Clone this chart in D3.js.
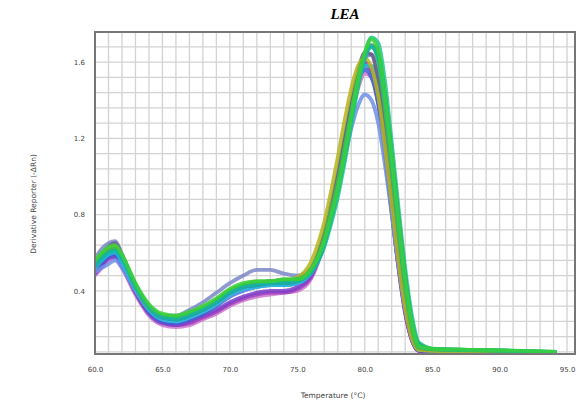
<!DOCTYPE html>
<html>
<head>
<meta charset="utf-8">
<script src="https://cdn.jsdelivr.net/npm/d3@7"></script>
<style>
  html, body { margin: 0; padding: 0; background: #fff; }
  svg { display: block; }
</style>
</head>
<body>
<svg id="chart" width="583" height="412"></svg>
<script>
// Melt curve: derivative reporter vs temperature, one trace per well
const temperatures = [60,60.5,61,61.5,62,63,64,65,66,67,68,69,70,71,72,73,74,75,76,76.5,77,77.5,78,78.5,79,79.5,80,80.5,81,81.5,82,82.5,83,83.5,84,85,88,91,94.2];

const xTicks = [60, 65, 70, 75, 80, 85, 90, 95];
const yTicks = [0.4, 0.8, 1.2, 1.6];

const seriesNames  = ["w13","w09","w08","w07","w06","w05","w12","w10","w04","w02","w14","w11","w03","w01"];
const seriesColors = ["#cc77cc","#a040c0","#7b3fc9","#3c5fd6","#6f8fe8","#7d86c8","#1fc0d8","#6a5a8a","#b5b51c","#19c98a","#2a9d6a","#46b848","#12b5a8","#3ad13a"];

const w13 = [0.48,0.52,0.56,0.57,0.52,0.38,0.27,0.22,0.21,0.22,0.25,0.28,0.32,0.35,0.37,0.38,0.39,0.40,0.46,0.54,0.65,0.80,0.96,1.14,1.32,1.46,1.54,1.52,1.38,1.12,0.82,0.53,0.29,0.14,0.088,0.085,0.082,0.078,0.072];
const w09 = [0.50,0.54,0.58,0.59,0.54,0.40,0.29,0.24,0.22,0.23,0.26,0.29,0.33,0.36,0.38,0.39,0.39,0.41,0.47,0.55,0.66,0.81,0.97,1.16,1.35,1.50,1.58,1.55,1.40,1.13,0.82,0.53,0.29,0.14,0.085,0.082,0.080,0.076,0.068];
const w08 = [0.49,0.53,0.57,0.58,0.53,0.39,0.28,0.23,0.22,0.24,0.27,0.30,0.34,0.37,0.39,0.40,0.40,0.42,0.48,0.56,0.67,0.82,0.98,1.17,1.36,1.52,1.60,1.56,1.40,1.12,0.81,0.52,0.28,0.14,0.085,0.082,0.080,0.078,0.070];
const w07 = [0.51,0.55,0.58,0.59,0.54,0.40,0.29,0.24,0.23,0.25,0.28,0.32,0.37,0.40,0.42,0.43,0.43,0.44,0.50,0.58,0.69,0.84,1.00,1.18,1.36,1.50,1.56,1.52,1.38,1.13,0.84,0.55,0.31,0.15,0.090,0.086,0.083,0.080,0.074];
const w06 = [0.50,0.52,0.54,0.56,0.52,0.40,0.30,0.25,0.24,0.26,0.29,0.33,0.37,0.40,0.42,0.43,0.43,0.44,0.49,0.56,0.66,0.79,0.93,1.09,1.25,1.37,1.43,1.40,1.28,1.06,0.80,0.53,0.30,0.15,0.090,0.085,0.082,0.080,0.075];
const w05 = [0.57,0.62,0.65,0.66,0.59,0.43,0.32,0.27,0.27,0.30,0.34,0.39,0.44,0.48,0.51,0.51,0.49,0.48,0.52,0.58,0.68,0.81,0.96,1.14,1.33,1.50,1.62,1.64,1.52,1.26,0.94,0.63,0.36,0.17,0.100,0.090,0.087,0.083,0.077];
const w12 = [0.52,0.56,0.59,0.60,0.55,0.41,0.30,0.25,0.24,0.26,0.29,0.33,0.38,0.41,0.42,0.43,0.43,0.44,0.50,0.58,0.70,0.85,1.01,1.19,1.36,1.50,1.58,1.58,1.47,1.22,0.91,0.60,0.34,0.16,0.090,0.087,0.084,0.080,0.074];
const w10 = [0.53,0.58,0.63,0.65,0.59,0.42,0.31,0.26,0.25,0.27,0.30,0.34,0.39,0.42,0.43,0.44,0.44,0.45,0.51,0.59,0.70,0.85,1.01,1.20,1.39,1.55,1.65,1.64,1.50,1.22,0.90,0.59,0.33,0.16,0.095,0.090,0.086,0.082,0.076];
const w04 = [0.55,0.59,0.62,0.63,0.58,0.42,0.31,0.27,0.26,0.28,0.31,0.35,0.40,0.43,0.44,0.45,0.45,0.47,0.55,0.64,0.76,0.92,1.10,1.29,1.46,1.58,1.62,1.57,1.42,1.16,0.86,0.56,0.31,0.15,0.090,0.085,0.082,0.080,0.075];
const w02 = [0.54,0.58,0.61,0.62,0.58,0.43,0.32,0.27,0.26,0.28,0.31,0.35,0.40,0.43,0.44,0.45,0.45,0.46,0.50,0.55,0.63,0.75,0.89,1.07,1.27,1.47,1.64,1.73,1.70,1.50,1.18,0.84,0.52,0.27,0.130,0.097,0.090,0.085,0.079];
const w14 = [0.54,0.58,0.61,0.62,0.58,0.43,0.32,0.27,0.26,0.28,0.31,0.35,0.40,0.43,0.44,0.45,0.45,0.46,0.50,0.56,0.65,0.78,0.93,1.11,1.31,1.50,1.63,1.69,1.64,1.43,1.12,0.79,0.48,0.24,0.120,0.095,0.090,0.085,0.079];
const w11 = [0.55,0.59,0.61,0.62,0.58,0.43,0.32,0.27,0.26,0.28,0.31,0.35,0.40,0.43,0.45,0.45,0.46,0.46,0.51,0.58,0.68,0.82,0.97,1.15,1.34,1.52,1.64,1.68,1.60,1.35,1.03,0.71,0.41,0.20,0.100,0.093,0.088,0.084,0.078];
const w03 = [0.53,0.57,0.60,0.61,0.57,0.42,0.31,0.26,0.25,0.27,0.30,0.34,0.39,0.42,0.43,0.44,0.44,0.45,0.49,0.55,0.64,0.77,0.92,1.10,1.30,1.48,1.62,1.68,1.62,1.40,1.08,0.75,0.45,0.23,0.110,0.094,0.089,0.084,0.078];
const w01 = [0.56,0.60,0.63,0.64,0.59,0.44,0.33,0.28,0.27,0.29,0.32,0.36,0.41,0.44,0.45,0.45,0.46,0.46,0.51,0.57,0.66,0.79,0.93,1.11,1.31,1.50,1.65,1.72,1.66,1.42,1.10,0.77,0.46,0.23,0.110,0.095,0.090,0.086,0.080];

const seriesValues = [w13,w09,w08,w07,w06,w05,w12,w10,w04,w02,w14,w11,w03,w01];

const svg = d3.select("#chart");
const plot = { left: 95, right: 575, top: 32, bottom: 354 };

const x = d3.scaleLinear().domain([60, 95.59]).range([plot.left, plot.right]);
const y = d3.scaleLinear().domain([0.0684, 1.758]).range([plot.bottom, plot.top]);

// Fine background grid: 1 °C columns, 0.08 rows
const grid = svg.append("g");
grid.selectAll("line.v")
  .data(d3.range(61, 96, 1))
  .join("line")
  .attr("x1", d => x(d)).attr("x2", d => x(d))
  .attr("y1", plot.top).attr("y2", plot.bottom)
  .attr("stroke", "#d3d3d3").attr("stroke-width", 1.3);
grid.selectAll("line.h")
  .data(d3.range(1, 22).map(i => +(i * 0.08).toFixed(2)).filter(v => v > 0.0684 && v < 1.758))
  .join("line")
  .attr("x1", plot.left).attr("x2", plot.right)
  .attr("y1", d => y(d)).attr("y2", d => y(d))
  .attr("stroke", "#d3d3d3").attr("stroke-width", 1.3);

// Traces
const line = d3.line()
  .x((d, i) => x(temperatures[i]))
  .y(d => y(d))
  .curve(d3.curveMonotoneX);

svg.append("clipPath").attr("id", "plotClip")
  .append("rect")
  .attr("x", plot.left).attr("y", plot.top)
  .attr("width", plot.right - plot.left).attr("height", plot.bottom - plot.top);

svg.append("g").attr("clip-path", "url(#plotClip)")
  .selectAll("path")
  .data(seriesValues)
  .join("path")
  .attr("d", d => line(d))
  .attr("fill", "none")
  .attr("stroke", (d, i) => seriesColors[i])
  .attr("stroke-width", 3.8)
  .attr("stroke-opacity", 0.85)
  .attr("stroke-linejoin", "round");

// Frame
svg.append("rect")
  .attr("x", plot.left).attr("y", plot.top)
  .attr("width", plot.right - plot.left).attr("height", plot.bottom - plot.top)
  .attr("fill", "none").attr("stroke", "#777").attr("stroke-width", 2);

// Axes
const xAxis = svg.append("g")
  .attr("transform", `translate(0,${plot.bottom})`)
  .call(d3.axisBottom(x).tickValues(xTicks).tickFormat(d3.format(".1f")).tickSize(0).tickPadding(13));
xAxis.select(".domain").remove();
xAxis.selectAll("text")
  .attr("font-family", "DejaVu Sans, sans-serif").attr("font-size", 7).attr("fill", "#444");

const yAxis = svg.append("g")
  .attr("transform", `translate(${plot.left},0)`)
  .call(d3.axisLeft(y).tickValues(yTicks).tickFormat(d3.format(".1f")).tickSize(0).tickPadding(10));
yAxis.select(".domain").remove();
yAxis.selectAll("text")
  .attr("font-family", "DejaVu Sans, sans-serif").attr("font-size", 7).attr("fill", "#444");

// Titles
svg.append("text")
  .attr("x", 345).attr("y", 19)
  .attr("text-anchor", "middle")
  .attr("font-family", "Liberation Serif, Times New Roman, serif")
  .attr("font-weight", "bold").attr("font-style", "italic")
  .attr("font-size", 15).attr("fill", "#000")
  .text("LEA");

svg.append("text")
  .attr("x", 333).attr("y", 398)
  .attr("text-anchor", "middle")
  .attr("font-family", "DejaVu Sans, sans-serif")
  .attr("font-size", 7.5).attr("fill", "#444")
  .text("Temperature (°C)");

svg.append("text")
  .attr("transform", "translate(36,204) rotate(-90)")
  .attr("text-anchor", "middle")
  .attr("font-family", "DejaVu Sans, sans-serif")
  .attr("font-size", 7.5).attr("fill", "#444")
  .text("Derivative Reporter (-ΔRn)");
</script>
</body>
</html>
